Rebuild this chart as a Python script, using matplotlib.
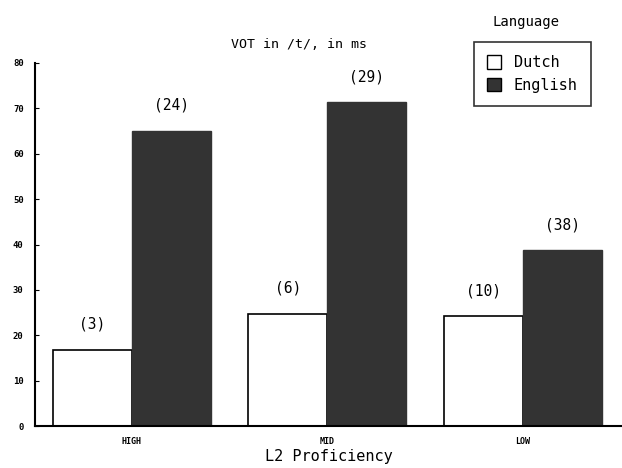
import numpy as np
from matplotlib import pyplot as plt
from matplotlib.patches import Patch

groups = ["HIGH", "MID", "LOW"]
dutch = [16.8, 24.7, 24.2]
english = [65.0, 71.3, 38.7]
dutch_n = ["(3)", "(6)", "(10)"]
english_n = ["(24)", "(29)", "(38)"]

plt.rcParams["font.family"] = "DejaVu Sans Mono"

fig = plt.figure(figsize=(6.22, 4.68), dpi=100)
ax = fig.add_axes([0.056, 0.089, 0.944, 0.777])

x = np.arange(len(groups))
w = 0.404
dark = "#333333"
ax.bar(x - w, dutch, w, align="edge", color="white", edgecolor="black", linewidth=1.2)
ax.bar(x, english, w, align="edge", color=dark, edgecolor=dark, linewidth=1.0)

for i in range(len(groups)):
    ax.text(x[i] - w / 2, dutch[i] + 4, dutch_n[i], ha="center", va="bottom", fontsize=10.5)
    ax.text(x[i] + w / 2, english[i] + 4, english_n[i], ha="center", va="bottom", fontsize=10.5)

ax.set_xlim(-0.496, 2.506)
ax.set_ylim(0, 80)
ax.set_yticks(range(0, 81, 10))
ax.set_xticks(x)
ax.set_xticklabels(groups, fontsize=6, fontweight="bold")
ax.tick_params(axis="y", direction="in", length=3, labelsize=6.5, pad=8)
ax.tick_params(axis="x", length=0, pad=8)
for lab in ax.get_yticklabels():
    lab.set_fontweight("bold")
ax.spines["top"].set_visible(False)
ax.spines["right"].set_visible(False)
ax.spines["left"].set_linewidth(1.5)
ax.spines["bottom"].set_linewidth(1.5)

ax.set_xlabel("L2 Proficiency", fontsize=11, labelpad=2)
fig.text(0.48, 0.905, "VOT in /t/, in ms", ha="center", va="center", fontsize=9.5)

handles = [Patch(facecolor="white", edgecolor="black", label="Dutch"),
           Patch(facecolor=dark, edgecolor="black", label="English")]
leg = ax.legend(handles=handles, loc="upper left", bbox_to_anchor=(0.748, 1.057),
                fontsize=11, frameon=True, fancybox=False, edgecolor="black",
                handlelength=0.9, handleheight=1.0, handletextpad=0.85,
                borderpad=0.85, labelspacing=0.5, borderaxespad=0)
leg.get_frame().set_linewidth(1.2)
fig.text(0.845, 0.952, "Language", ha="center", va="center", fontsize=10)

fig.savefig("out.png", dpi=100)
